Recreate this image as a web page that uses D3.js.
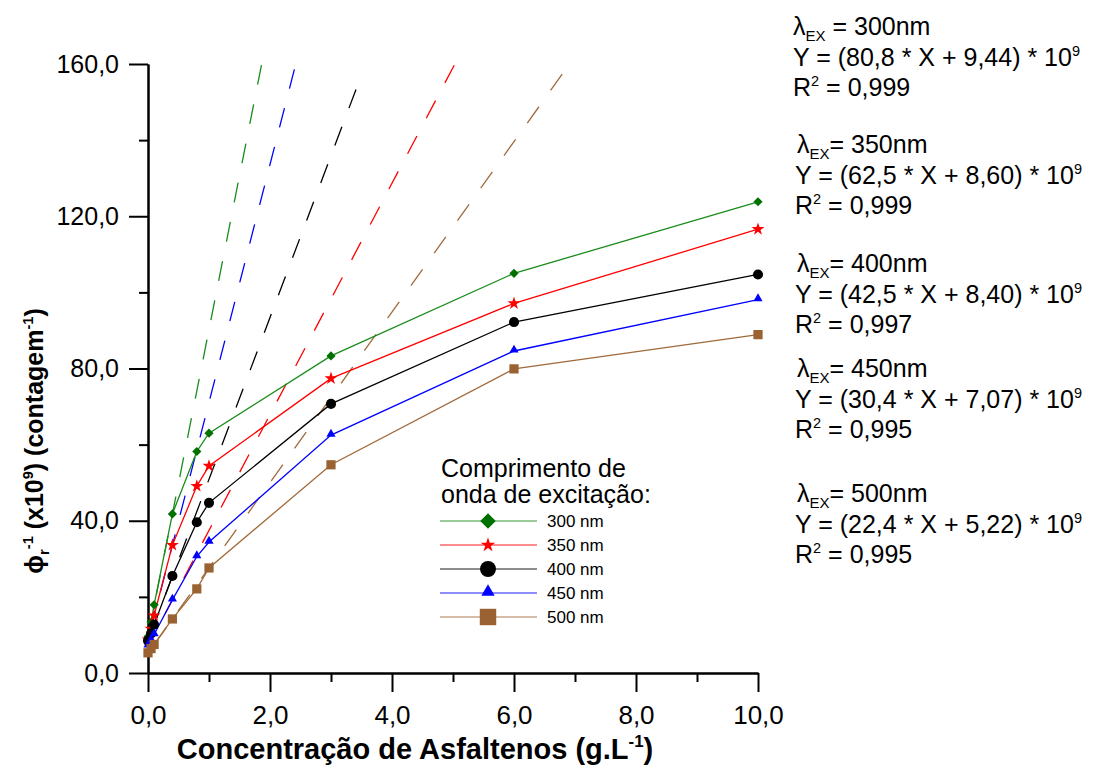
<!DOCTYPE html>
<html>
<head>
<meta charset="utf-8">
<script src="https://cdn.jsdelivr.net/npm/d3@7"></script>
<style>
  html, body { margin: 0; padding: 0; background: #fff; }
  svg { display: block; font-family: "Liberation Sans", Arial, sans-serif; }
</style>
</head>
<body>
<svg id="chart" width="1094" height="765"></svg>
<script>
// Asphaltene concentration (g/L)
const concentrations = [0, 0.05, 0.1, 0.4, 0.8, 1.0, 3.0, 6.0, 10.0];

// Inverse relative quantum yield (x10^9) per excitation wavelength
const phi300 = [9.6, 13.4, 17.9, 41.8, 58.2, 63.0, 83.3, 105.0, 123.8];
const phi350 = [8.8, 11.6, 15.1, 33.6, 49.1, 54.4, 77.4, 97.1, 116.6];
const phi400 = [8.5, 10.4, 12.7, 25.5, 39.6, 44.7, 70.7, 92.2, 104.7];
const phi450 = [7.1, 8.6, 10.1, 19.2, 30.6, 34.4, 62.5, 84.6, 98.1];
const phi500 = [5.3, 6.4, 7.5, 14.2, 22.1, 27.6, 54.7, 79.9, 88.9];

const seriesLabels = ["300 nm", "350 nm", "400 nm", "450 nm", "500 nm"];
const wavelengthNames = ["300nm", "350nm", "400nm", "450nm", "500nm"];

// Linear fits in the dilute region
const fitSlope = [80.8, 62.5, 42.5, 30.4, 22.4];
const fitIntercept = [9.44, 8.60, 8.40, 7.07, 5.22];
const fitSlopeText = ["80,8", "62,5", "42,5", "30,4", "22,4"];
const fitInterceptText = ["9,44", "8,60", "8,40", "7,07", "5,22"];
const fitR2Text = ["0,999", "0,999", "0,997", "0,995", "0,995"];
const fitXMax = [1.86, 2.40, 3.41, 5.02, 6.79];

const xTickMajor = [0, 2, 4, 6, 8, 10];
const xTickMinor = [1, 3, 5, 7, 9];
const yTickMajor = [0, 40, 80, 120, 160];
const yTickMinor = [20, 60, 100, 140];

const series = [phi300, phi350, phi400, phi450, phi500];
const lineColors = ["#1a8c1a", "#ff0000", "#000000", "#0000ff", "#a06a3a"];
const markColors = ["#007000", "#ff0000", "#000000", "#0000ff", "#9a6232"];
const fitColors = ["#1a8c1a", "#0000ff", "#000000", "#ff0000", "#a06a3a"];

const svg = d3.select("#chart");
const x = d3.scaleLinear().domain([0, 10]).range([148, 758]);
const y = d3.scaleLinear().domain([0, 160]).range([673, 64]);
const fmt = v => d3.format(".1f")(v).replace(".", ",");

// axes
function styleAxis(g, fs) {
  g.select(".domain").attr("stroke", "#000").attr("stroke-width", 2);
  g.selectAll(".tick line").attr("stroke", "#000").attr("stroke-width", 2);
  g.selectAll(".tick text").attr("fill", "#000")
    .style("font-family", "'Liberation Sans', Arial, sans-serif").style("font-size", fs + "px");
}
svg.append("g").attr("transform", "translate(0,673)")
  .call(d3.axisBottom(x).tickValues(xTickMinor).tickSize(9).tickSizeOuter(0).tickFormat(""))
  .call(styleAxis, 26);
svg.append("g").attr("transform", "translate(0,673)")
  .call(d3.axisBottom(x).tickValues(xTickMajor).tickSize(19).tickSizeOuter(0).tickPadding(14).tickFormat(fmt))
  .call(styleAxis, 26);
svg.append("g").attr("transform", "translate(148,0)")
  .call(d3.axisLeft(y).tickValues(yTickMinor).tickSize(9).tickSizeOuter(0).tickFormat(""))
  .call(styleAxis, 25);
svg.append("g").attr("transform", "translate(148,0)")
  .call(d3.axisLeft(y).tickValues(yTickMajor).tickSize(19).tickSizeOuter(0).tickPadding(10).tickFormat(fmt))
  .call(styleAxis, 25);

// text with super/subscripts: parts = [[text, kind], ...]
function rich(textSel, parts, fs) {
  let shift = 0;
  parts.forEach(([t, kind]) => {
    const ts = textSel.append("tspan").text(t);
    let target = 0, size = fs;
    if (kind === "sup") { target = -0.4 * fs; size = 0.58 * fs; }
    if (kind === "sub") { target = 0.22 * fs; size = 0.6 * fs; }
    ts.attr("dy", target - shift).style("font-size", size + "px");
    shift = target;
  });
  return textSel;
}

// axis titles
rich(svg.append("text").attr("x", 415).attr("y", 759).attr("text-anchor", "middle")
  .style("font-weight", "bold"),
  [["Concentração de Asfaltenos (g.L", ""], ["-1", "sup"], [")", ""]], 29);

rich(svg.append("text").attr("transform", "translate(43,441) rotate(-90)").attr("text-anchor", "middle")
  .style("font-weight", "bold"),
  [["\u03d5", ""], ["r", "sub"], ["-1", "sup"], [" (x10", ""], ["9", "sup"], [") (contagem", ""], ["-1", "sup"], [")", ""]], 25);

// fitted lines (dashed)
const plot = svg.append("g");
fitSlope.forEach((m, i) => {
  const ends = [fitXMax[i], 0];
  plot.append("path")
    .datum(ends)
    .attr("d", d3.line().x(d => x(d)).y(d => y(m * d + fitIntercept[i])))
    .attr("fill", "none").attr("stroke", fitColors[i]).attr("stroke-width", 1.3)
    .attr("stroke-dasharray", "20,20");
});

// measured series
const line = d3.line().x((d, j) => x(concentrations[j])).y(d => y(d));
series.forEach((vals, i) => {
  plot.append("path").datum(vals).attr("d", line)
    .attr("fill", "none").attr("stroke", lineColors[i]).attr("stroke-width", 1.3);
});

function marker(g, i, big) {
  let sym;
  if (i === 0) sym = d3.symbol(d3.symbolSquare, big ? 120 : 42);
  if (i === 1) sym = d3.symbol(d3.symbolStar, big ? 66 : 52);
  if (i === 2) sym = d3.symbol(d3.symbolCircle, big ? 200 : 80);
  if (i === 3) sym = d3.symbol(d3.symbolTriangle, big ? 78 : 36);
  if (i === 4) sym = d3.symbol(d3.symbolSquare, big ? 270 : 85);
  const p = g.append("path").attr("d", sym()).attr("fill", markColors[i]);
  if (i === 0) p.attr("transform", "rotate(45)");
  if (i === 3) p.attr("transform", "translate(0,-1)");
  return p;
}

series.forEach((vals, i) => {
  vals.forEach((v, j) => {
    const g = plot.append("g").attr("transform", `translate(${x(concentrations[j])},${y(v)})`);
    marker(g, i, false);
  });
});

// legend
const legend = svg.append("g").attr("transform", "translate(441,0)");
legend.append("text").attr("x", 0).attr("y", 477).style("font-size", "25px").text("Comprimento de");
legend.append("text").attr("x", 0).attr("y", 503).style("font-size", "25px").text("onda de excitação:");
seriesLabels.forEach((lab, i) => {
  const yy = 521 + i * 24;
  legend.append("line").attr("x1", -1).attr("x2", 96).attr("y1", yy).attr("y2", yy)
    .attr("stroke", lineColors[i]).attr("stroke-width", 1.5).attr("stroke-opacity", 0.6);
  const g = legend.append("g").attr("transform", `translate(47,${yy})`);
  marker(g, i, true);
  legend.append("text").attr("x", 106).attr("y", yy + 6).style("font-size", "17px").text(lab);
});

// fit equations
const eqBlocks = [
  { x: 793, y: 35, lamSpace: true },
  { x: 797, y: 153, lamSpace: false },
  { x: 797, y: 272, lamSpace: false },
  { x: 797, y: 377, lamSpace: false },
  { x: 797, y: 502, lamSpace: false }
];
eqBlocks.forEach((b, i) => {
  const fs = 25;
  rich(svg.append("text").attr("x", b.x).attr("y", b.y),
    [["\u03bb", ""], ["EX", "sub"], [(b.lamSpace ? " = " : "= ") + wavelengthNames[i], ""]], fs);
  rich(svg.append("text").attr("x", b.x - (i === 0 ? 0 : 2)).attr("y", b.y + 31),
    [[`Y = (${fitSlopeText[i]} * X + ${fitInterceptText[i]}) * 10`, ""], ["9", "sup"]], fs);
  rich(svg.append("text").attr("x", b.x - (i === 0 ? 0 : 2)).attr("y", b.y + 61),
    [["R", ""], ["2", "sup"], [" = " + fitR2Text[i], ""]], fs);
});
</script>
</body>
</html>
